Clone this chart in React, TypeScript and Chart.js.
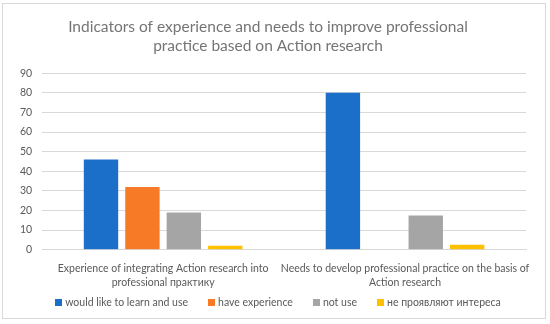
import React, { useEffect, useRef } from "react";
import { Chart, registerables } from "chart.js";

Chart.register(...registerables);

const categories: string[][] = [
  ["Experience of integrating Action research into", "professional практику"],
  ["Needs to develop professional practice on the basis of", "Action research"],
];
const seriesNames = ["would like to learn and use", "have experience", "not use", "не проявляют интереса"];
const learnValues = [46, 80];
const experienceValues = [32, 0];
const notUseValues = [19, 17.5];
const noInterestValues = [2, 2.5];
const yTicks = [0, 10, 20, 30, 40, 50, 60, 70, 80, 90];
const colors = ["#1C6FC9", "#F77B27", "#A5A5A5", "#FFC000"];
const FONT = "Lato, 'Open Sans', sans-serif";

export default function App() {
  const ref = useRef<HTMLCanvasElement | null>(null);
  useEffect(() => {
    document.body.style.margin = "0";
    const ctx = ref.current!;
    const data = [learnValues, experienceValues, notUseValues, noInterestValues];
    const chart = new Chart(ctx, {
      type: "bar",
      data: {
        labels: categories,
        datasets: seriesNames.map((n, i) => ({
          label: n,
          data: data[i],
          backgroundColor: colors[i],
          borderWidth: 0,
          categoryPercentage: 0.685,
          barPercentage: 0.83,
        })),
      },
      options: {
        animation: false,
        responsive: false,
        maintainAspectRatio: false,
        layout: { padding: { left: 10, right: 24, top: 8, bottom: 31 } },
        plugins: {
          title: {
            display: true,
            text: ["Indicators of experience and needs to improve professional", "practice based on Action research"],
            color: "#757575",
            font: { family: FONT, size: 15.5, weight: "normal" },
            padding: { top: 10, bottom: 18 },
            lineHeight: 1.35,
          },
          legend: { display: false },
          tooltip: { enabled: false },
        },
        scales: {
          x: {
            grid: { display: false },
            border: { display: true, color: "#D9D9D9" },
            ticks: {
              color: "#595959",
              font: { family: FONT, size: 10.5, lineHeight: 1.3 },
              maxRotation: 0,
              autoSkip: false,
              padding: 4,
            },
          },
          y: {
            min: 0,
            max: 90,
            afterBuildTicks: (axis: any) => {
              axis.ticks = yTicks.map((v) => ({ value: v }));
            },
            grid: { color: "#D9D9D9", drawTicks: false },
            border: { display: false },
            ticks: { color: "#595959", font: { family: FONT, size: 10.5 }, padding: 10, autoSkip: false },
          },
        },
      },
    });
    return () => chart.destroy();
  }, []);
  return (
    <div
      style={{
        position: "fixed",
        left: 0,
        top: 0,
        width: 550,
        height: 324,
        background: "#fff",
      }}
    >
      <div
        style={{
          position: "absolute",
          left: 2,
          top: 3,
          width: 544,
          height: 316,
          border: "1px solid #D9D9D9",
          boxSizing: "border-box",
        }}
      />
      <canvas ref={ref} width={550} height={324} style={{ position: "absolute", left: 0, top: 0 }} />
      <div
        style={{
          position: "absolute",
          left: 3,
          width: 550,
          top: 294,
          height: 16,
          display: "flex",
          justifyContent: "center",
          alignItems: "center",
          fontFamily: FONT,
          fontSize: 10.5,
          color: "#595959",
          whiteSpace: "nowrap",
        }}
      >
        {seriesNames.map((n, i) => (
          <div key={n} style={{ display: "flex", alignItems: "center", marginRight: i < seriesNames.length - 1 ? 20 : 0 }}>
            <span style={{ display: "inline-block", width: 7, height: 7, background: colors[i], marginRight: 3 }} />
            <span>{n}</span>
          </div>
        ))}
      </div>
    </div>
  );
}
